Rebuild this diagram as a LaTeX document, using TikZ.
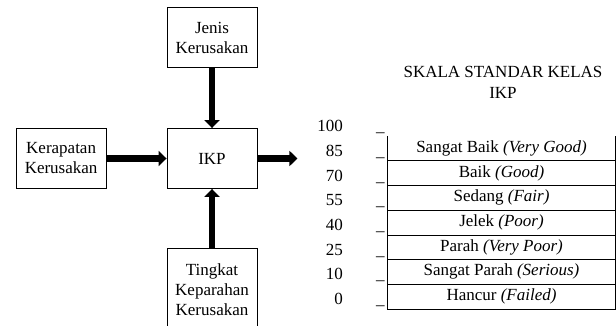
\documentclass[tikz,border=0pt]{standalone}
\usepackage{fontspec}
\setmainfont{Liberation Serif}
\usepackage{tikz}
\usetikzlibrary{arrows.meta,positioning,calc}
\tikzset{
    box/.style={draw, line width=0.9pt, minimum width=90pt, minimum height=60pt, align=center, inner sep=2pt},
    flow/.style={-{Triangle[length=8pt, width=15pt]}, line width=6.5pt},
    kelas/.style={minimum width=227pt, minimum height=24.7pt, inner sep=0pt},
    skala/.style={line width=1pt}
}

\begin{document}
\begin{tikzpicture}[x=1pt, y=-1pt, node distance=60pt, font=\fontsize{17}{20}\selectfont]
    \clip (0,0) rectangle (616,326);
    \node[box] (ikp) at (212,158.5) {IKP};
    \node[box, above=of ikp] (jenis) {Jenis\\Kerusakan};
    \node[box, left=of ikp] (kerapatan) {Kerapatan\\Kerusakan};
    \node[box, below=59pt of ikp, minimum height=82pt] (tingkat) {Tingkat\\Keparahan\\Kerusakan};
    \coordinate[right=40pt of ikp] (hasil);

    \draw[flow] (jenis) -- (ikp);
    \draw[flow] (kerapatan) -- (ikp);
    \draw[flow] (tingkat) -- (ikp);
    \draw[flow] (ikp) -- (hasil);

    % skala standar kelas
    \node[align=center, font=\fontsize{17}{21}\selectfont] (judul) at (503,82.5) {SKALA STANDAR KELAS\\IKP};
    \foreach \teks [count=\i] in {Sangat Baik \textit{(Very Good)}, Baik \textit{(Good)}, Sedang \textit{(Fair)}, Jelek \textit{(Poor)}, Parah \textit{(Very Poor)}, Sangat Parah \textit{(Serious)}, Hancur \textit{(Failed)}}
        \node[kelas] (k\i) at (501.5, {136+24.7*(\i-0.5)}) {\teks};
    \draw[skala] (k1.north west) -- (k7.south west) -- (k7.south east) -- (k1.north east);
    \foreach \i in {1,...,6}
        \draw[skala] (k\i.south west) -- (k\i.south east);

    \foreach \v [count=\i from 0] in {100,85,70,55,40,25,10,0} {
        \node[anchor=base east, inner sep=0pt] (n\i) at (343, {136+24.7*\i-4.3}) {\v};
        \node[anchor=base west, inner sep=0pt] (t\i) at (376, {136+24.7*\i-4.3}) {\_};
    }
\end{tikzpicture}
\end{document}
